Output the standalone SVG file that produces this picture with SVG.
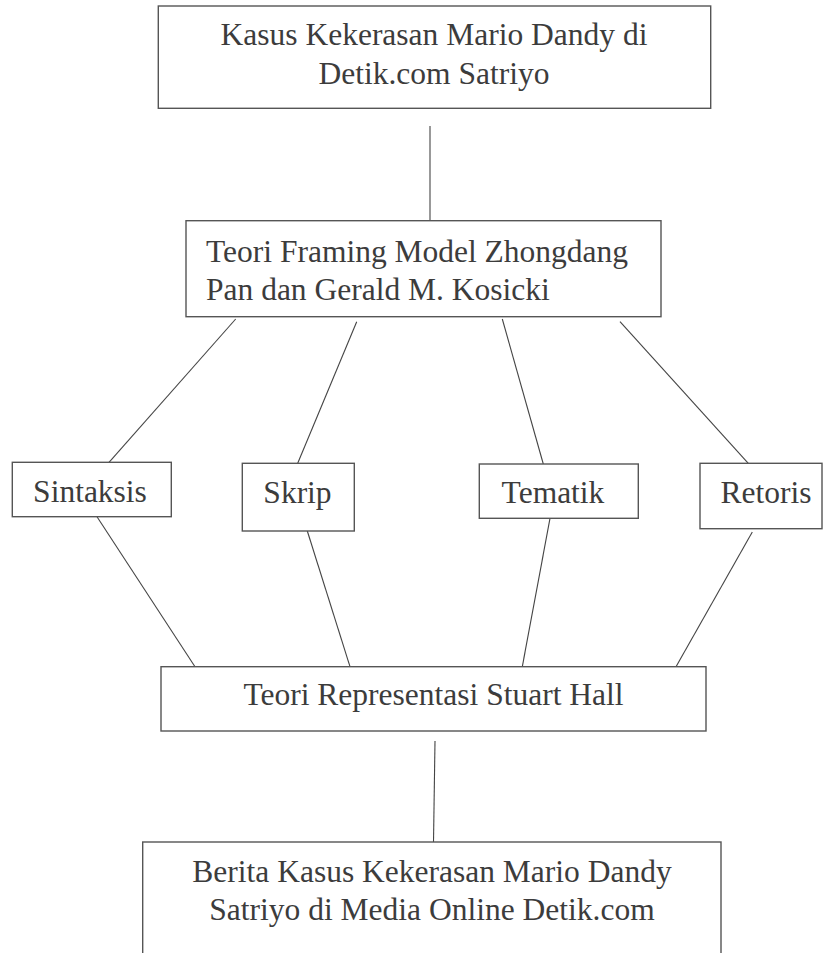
<svg xmlns="http://www.w3.org/2000/svg" width="823" height="953" viewBox="0 0 823 953">
  <style>
    .box { fill: #ffffff; stroke: #555555; stroke-width: 1.4; }
    .lbl { font-family: "Liberation Serif", "Times New Roman", serif; font-size: 31.5px; fill: #3c3c3c; }
    .mid { text-anchor: middle; }
    .conn line { stroke: #444444; stroke-width: 1.1; }
  </style>
  <rect x="0" y="0" width="823" height="953" fill="#ffffff"/>

  <g id="connectors" class="conn">
    <line x1="430" y1="126" x2="430" y2="221"/>
    <line x1="235.7" y1="319" x2="109" y2="462.3"/>
    <line x1="356.7" y1="321.7" x2="297.7" y2="463.3"/>
    <line x1="502.3" y1="319" x2="543.3" y2="464"/>
    <line x1="620" y1="321.7" x2="748.3" y2="463.3"/>
    <line x1="97" y1="516.7" x2="195" y2="666.7"/>
    <line x1="307.3" y1="531" x2="350" y2="666.7"/>
    <line x1="550" y1="518.3" x2="522.3" y2="666.7"/>
    <line x1="752.3" y1="532" x2="676" y2="666.7"/>
    <line x1="435" y1="741" x2="433.5" y2="842"/>
  </g>

  <g id="node-kasus">
    <rect class="box" x="158.3" y="6" width="552.4" height="102.3"/>
    <text class="lbl mid" x="434" y="45">Kasus Kekerasan Mario Dandy di</text>
    <text class="lbl mid" x="434" y="84">Detik.com Satriyo</text>
  </g>

  <g id="node-framing">
    <rect class="box" x="186" y="220.7" width="475" height="96"/>
    <text class="lbl" x="206" y="262">Teori Framing Model Zhongdang</text>
    <text class="lbl" x="206" y="300">Pan dan Gerald M. Kosicki</text>
  </g>

  <g id="node-sintaksis">
    <rect class="box" x="12.3" y="462.3" width="159" height="54.4"/>
    <text class="lbl mid" x="90" y="502">Sintaksis</text>
  </g>

  <g id="node-skrip">
    <rect class="box" x="242.3" y="463.3" width="112" height="67.7"/>
    <text class="lbl mid" x="297.5" y="503">Skrip</text>
  </g>

  <g id="node-tematik">
    <rect class="box" x="479.3" y="464" width="159" height="54.3"/>
    <text class="lbl mid" x="553" y="503">Tematik</text>
  </g>

  <g id="node-retoris">
    <rect class="box" x="700" y="463.3" width="122" height="65.4"/>
    <text class="lbl mid" x="766" y="503">Retoris</text>
  </g>

  <g id="node-representasi">
    <rect class="box" x="161" y="666.7" width="545" height="64.3"/>
    <text class="lbl mid" x="433.5" y="705">Teori Representasi Stuart Hall</text>
  </g>

  <g id="node-berita">
    <rect class="box" x="142.7" y="842" width="578.3" height="130"/>
    <text class="lbl mid" x="432" y="882">Berita Kasus Kekerasan Mario Dandy</text>
    <text class="lbl mid" x="432" y="920">Satriyo di Media Online Detik.com</text>
  </g>
</svg>
